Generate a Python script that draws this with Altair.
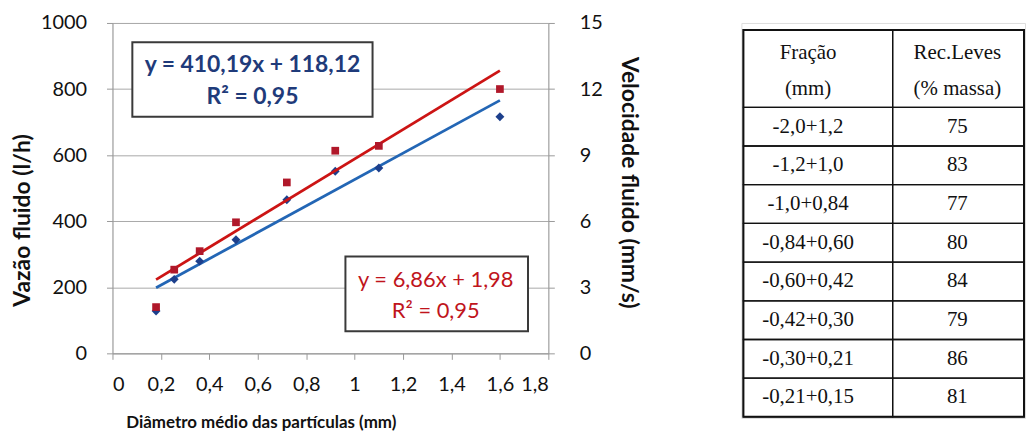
import altair as alt
import pandas as pd

# ---------------- data ----------------
diametro = [0.18, 0.255, 0.36, 0.51, 0.72, 0.92, 1.10, 1.60]          # mm
vazao = [128, 224, 279, 344, 465, 551, 561, 716]                       # l/h
velocidade = [2.10, 3.80, 4.64, 5.95, 7.76, 9.20, 9.42, 12.00]         # mm/s

fracao = ["-2,0+1,2", "-1,2+1,0", "-1,0+0,84", "-0,84+0,60",
          "-0,60+0,42", "-0,42+0,30", "-0,30+0,21", "-0,21+0,15"]
rec_leves = [75, 83, 77, 80, 84, 79, 86, 81]
header_fracao = ["Fração", "(mm)"]
header_rec = ["Rec.Leves", "(% massa)"]

eq_vazao = ["y = 410,19x + 118,12", "R² = 0,95"]
eq_vel = ["y = 6,86x + 1,98", "R² = 0,95"]

x_ticks = [0, 0.2, 0.4, 0.6, 0.8, 1.0, 1.2, 1.4, 1.6, 1.8]
vazao_ticks = [0, 200, 400, 600, 800, 1000]
vel_ticks = [0, 3, 6, 9, 12, 15]

# ---------------- styles ----------------
FONT = "Lato"
SERIF = "Liberation Serif"
BLUE_PT = "#1d3f8c"
BLUE_LN = "#2366b5"
RED_PT = "#b0182a"
RED_LN = "#cc1414"
BLUE_TXT = "#1f3b7a"
RED_TXT = "#c0141c"
COMMA = "replace(format(datum.value, '~g'), '.', ',')"

df = pd.DataFrame({"d": diametro, "q": vazao, "v": velocidade})

x_axis = alt.Axis(values=x_ticks, labelExpr=COMMA, grid=False,
                  title="Diâmetro médio das partículas (mm)",
                  titleFont=FONT, titleFontSize=17, titleFontWeight="bold",
                  titleColor="#111", titleX=149, titlePadding=21,
                  labelFont=FONT, labelFontSize=20, labelColor="#111",
                  labelPadding=15, tickSize=6, tickColor="#999",
                  domainColor="#999")
x_scale = alt.Scale(domain=[0, 1.8], nice=False)

yq_axis = alt.Axis(values=vazao_ticks, labelExpr=COMMA, orient="left", grid=True,
                   gridColor="#a8a8a8", gridWidth=1,
                   title="Vazão  fluido (l/h)",
                   titleFont=FONT, titleFontSize=23, titleFontWeight="bold",
                   titleColor="#111", titleY=198, titlePadding=6,
                   labelFont=FONT, labelFontSize=20, labelColor="#111",
                   labelPadding=20, tickSize=6, tickColor="#999",
                   domainColor="#999")
yq_scale = alt.Scale(domain=[0, 1000], nice=False)

yv_axis = alt.Axis(values=vel_ticks, labelExpr=COMMA, orient="right", grid=False,
                   title="Velocidade fluido  (mm/s)",
                   titleFont=FONT, titleFontSize=23, titleFontWeight="bold",
                   titleColor="#111", titleY=160, titlePadding=14,
                   labelFont=FONT, labelFontSize=20, labelColor="#111",
                   labelPadding=25, tickSize=6, tickColor="#999",
                   domainColor="#999")
yv_scale = alt.Scale(domain=[0, 15], nice=False)

X = alt.X("d:Q", scale=x_scale, axis=x_axis)
X2 = alt.X2("d2:Q")
YQ = alt.Y("q:Q", scale=yq_scale, axis=yq_axis)
YV = alt.Y("v:Q", scale=yv_scale, axis=yv_axis)

# annotation boxes (data coordinates of each axis)
box_q = pd.DataFrame({"d": [0.082], "d2": [1.074], "q": [716], "q2": [942]})
txt_q = pd.DataFrame({"d": [0.578, 0.578], "q": [873, 777], "t": eq_vazao})
box_v = pd.DataFrame({"d": [0.962], "d2": [1.716], "v": [1.0], "v2": [4.40]})
txt_v = pd.DataFrame({"d": [1.335, 1.335], "v": [3.35, 1.90], "t": eq_vel})

base = alt.Chart(df)

blue = alt.layer(
    base.transform_regression("d", "q").mark_line(color=BLUE_LN, strokeWidth=2.8)
        .encode(x=X, y=YQ),
    base.mark_point(shape="diamond", filled=True, size=80, color=BLUE_PT, opacity=1)
        .encode(x=X, y=YQ),
    alt.Chart(box_q).mark_rect(fill="white", stroke="#3a3a3a", strokeWidth=2)
        .encode(x=X, x2=X2, y=YQ, y2=alt.Y2("q2:Q")),
    alt.Chart(txt_q).mark_text(font=FONT, fontSize=23, fontWeight="bold",
                               color=BLUE_TXT, baseline="middle", align="center")
        .encode(x=X, y=YQ, text="t:N"),
)

red = alt.layer(
    base.transform_regression("d", "v").mark_line(color=RED_LN, strokeWidth=2.8)
        .encode(x=X, y=YV),
    base.mark_point(shape="square", filled=True, size=60, color=RED_PT, opacity=1)
        .encode(x=X, y=YV),
    alt.Chart(box_v).mark_rect(fill="white", stroke="#3a3a3a", strokeWidth=2)
        .encode(x=X, x2=X2, y=YV, y2=alt.Y2("v2:Q")),
    alt.Chart(txt_v).mark_text(font=FONT, fontSize=22, color=RED_TXT,
                               baseline="middle", align="center")
        .encode(x=X, y=YV, text="t:N"),
)

plot = alt.layer(blue, red).resolve_scale(y="independent").properties(
    width=438, height=332)

# ---------------- table ----------------
col_edges = [0, 150, 282]
col_text_x = [65, 215]
header_units = 2.0
top_offset = 0.18
unit_px = 38.9

cells = []
texts = []
row_labels = [header_fracao] + [[f] for f in fracao]
row_values = [header_rec] + [[str(r)] for r in rec_leves]
for i in range(len(row_labels)):
    if i == 0:
        y0, y1 = 0.0, header_units
    else:
        y0, y1 = header_units + i - 1, header_units + i
    for c, content in enumerate([row_labels[i], row_values[i]]):
        cells.append({"x0": col_edges[c], "x1": col_edges[c + 1], "y0": y0, "y1": y1})
        xc = col_text_x[c]
        if i == 0:
            for k, line in enumerate(content):
                texts.append({"x": xc, "y": 0.59 + 0.93 * k, "t": line})
        else:
            texts.append({"x": xc, "y": (y0 + y1) / 2, "t": content[0]})

cells_df = pd.DataFrame(cells)
texts_df = pd.DataFrame(texts)
outer_df = pd.DataFrame({"x0": [col_edges[0]], "x1": [col_edges[-1]],
                         "y0": [0.0], "y1": [header_units + len(fracao)]})

y_max = header_units + len(fracao) + 0.03
tx = alt.Scale(domain=[-2, col_edges[-1] + 1], nice=False)
ty = alt.Scale(domain=[-top_offset, y_max], reverse=True, nice=False)

table = alt.layer(
    alt.Chart(cells_df).mark_rect(fill=None, stroke="#111", strokeWidth=1.3)
        .encode(x=alt.X("x0:Q", scale=tx, axis=None), x2="x1:Q",
                y=alt.Y("y0:Q", scale=ty, axis=None), y2="y1:Q"),
    alt.Chart(outer_df).mark_rect(fill=None, stroke="#111", strokeWidth=2)
        .encode(x=alt.X("x0:Q", scale=tx, axis=None), x2="x1:Q",
                y=alt.Y("y0:Q", scale=ty, axis=None), y2="y1:Q"),
    alt.Chart(texts_df).mark_text(font=SERIF, fontSize=21, color="#111",
                                  baseline="middle", align="center")
        .encode(x=alt.X("x:Q", scale=tx, axis=None),
                y=alt.Y("y:Q", scale=ty, axis=None), text="t:N"),
).properties(width=col_edges[-1] + 3,
             height=round((y_max + top_offset) * unit_px))

chart = alt.hconcat(plot, table, spacing=101).properties(
    padding={"left": 3, "top": 3, "right": 0, "bottom": 0}
).configure_view(stroke=None).configure(background="white")

chart.save("out.html", embed_options={"renderer": "svg", "actions": False})
